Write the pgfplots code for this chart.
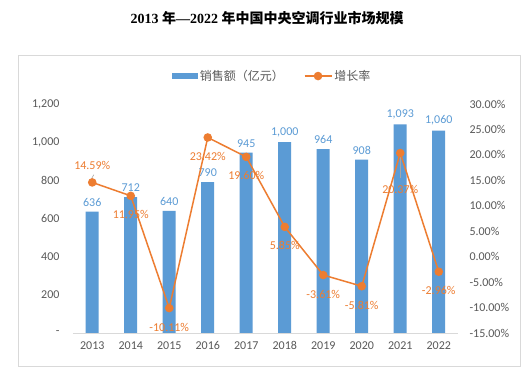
\documentclass[border=0pt]{standalone}
\usepackage{fontspec}
\usepackage{pgfplots}
\usepackage{pgfplotstable}
\pgfplotsset{compat=1.18}
\setmainfont{Carlito}
\newfontfamily\cjk{Noto Sans CJK SC}
\newfontfamily\titlelatin{Liberation Serif}
\definecolor{barblue}{HTML}{5B9BD5}
\definecolor{lineor}{HTML}{ED7D31}
\definecolor{tickgray}{HTML}{595959}
\definecolor{framegray}{HTML}{D9D9D9}

\pgfplotstableread{
x year sales growth
0 2013 636 14.59
1 2014 712 11.95
2 2015 640 -10.11
3 2016 790 23.42
4 2017 945 19.60
5 2018 1000 5.85
6 2019 964 -3.61
7 2020 908 -5.81
8 2021 1093 20.37
9 2022 1060 -2.96
}\data

\begin{document}
\begin{tikzpicture}
\useasboundingbox (0pt,0pt) rectangle (530pt,374pt);
\fill[white] (0pt,0pt) rectangle (530pt,374pt);
\draw[framegray, line width=1pt] (18pt,7pt) rectangle (520pt,318pt);
\node[font=\fontsize{14}{16}\selectfont\bfseries] at (267pt,356pt)
  {\titlelatin 2013 {\cjk 年}—2022 {\cjk 年中国中央空调行业市场规模}};

\begin{axis}[
  at={(73pt,41pt)}, anchor=south west,
  scale only axis, width=385pt, height=229pt,
  xmin=-0.5, xmax=9.5, ymin=0, ymax=1200,
  axis x line*=bottom, axis y line*=left,
  x axis line style={draw=framegray, line width=0.8pt, -},
  y axis line style={draw=none},
  major tick length=0pt,
  xtick={0,...,9},
  xticklabels={2013,2014,2015,2016,2017,2018,2019,2020,2021,2022},
  ytick={0,200,400,600,800,1000,1200},
  yticklabels={{-\hspace{6pt}},200,400,600,800,{1,000},{1,200}},
  tick label style={font=\fontsize{12}{14}\selectfont, text=tickgray},
  yticklabel style={anchor=east, xshift=-10pt},
  xticklabel style={yshift=-5pt},
  legend style={at={(0.517,1.122)}, anchor=center, draw=none, fill=none,
    font=\cjk\fontsize{12}{14}\selectfont, text=tickgray, legend columns=2,
    /tikz/every even column/.append style={column sep=18pt}},
]
\addplot[ybar, bar width=13pt, fill=barblue, draw=none,
  legend image code/.code={\fill[barblue] (0pt,-3pt) rectangle (26pt,3pt);},
  nodes near coords={\pgfmathprintnumber[fixed,precision=0,1000 sep={,},assume math mode=true]{\pgfplotspointmeta}},
  every node near coord/.append style={font=\fontsize{12}{14}\selectfont, text=barblue, yshift=2pt}
] table[x=x, y=sales] {\data};
\addlegendentry{销售额（亿元）}
\addlegendimage{lineor, line width=1.5pt,
  legend image code/.code={\draw[lineor,line width=1.5pt] (0pt,0pt) -- (27pt,0pt); \fill[lineor] (13.5pt,0pt) circle (3.5pt);}}
\addlegendentry{增长率}
\end{axis}

\begin{axis}[
  at={(73pt,41pt)}, anchor=south west,
  scale only axis, width=385pt, height=229pt,
  xmin=-0.5, xmax=9.5, ymin=-15, ymax=30,
  axis x line=none, axis y line*=right,
  y axis line style={draw=none},
  major tick length=0pt,
  ytick={-15,-10,...,30},
  yticklabel={\pgfmathprintnumber[fixed,fixed zerofill,precision=2,assume math mode=true]{\tick}\%},
  tick label style={font=\fontsize{12}{14}\selectfont, text=tickgray},
  yticklabel style={anchor=west, xshift=8pt},
]
\addplot[gray!70, line width=0.6pt] coordinates {(8,20.37) (8,15.5)};
\addplot[gray!70, line width=0.6pt] coordinates {(0.04,16.1) (-0.02,15.3)};
\addplot[lineor, line width=1.5pt, mark=*, mark size=3.5pt, mark options={fill=lineor, draw=lineor},
  nodes near coords={\pgfmathprintnumber[fixed,fixed zerofill,precision=2,assume math mode=true]{\pgfplotspointmeta}\%},
  every node near coord/.append style={font=\fontsize{12}{14}\selectfont, text=lineor, anchor=center, yshift=-19pt},
  coordinate style/.condition={\coordindex==0}{yshift=36pt},
  coordinate style/.condition={\coordindex==8}{yshift=-17pt},
] table[x=x, y=growth] {\data};
\end{axis}
\end{tikzpicture}
\end{document}
